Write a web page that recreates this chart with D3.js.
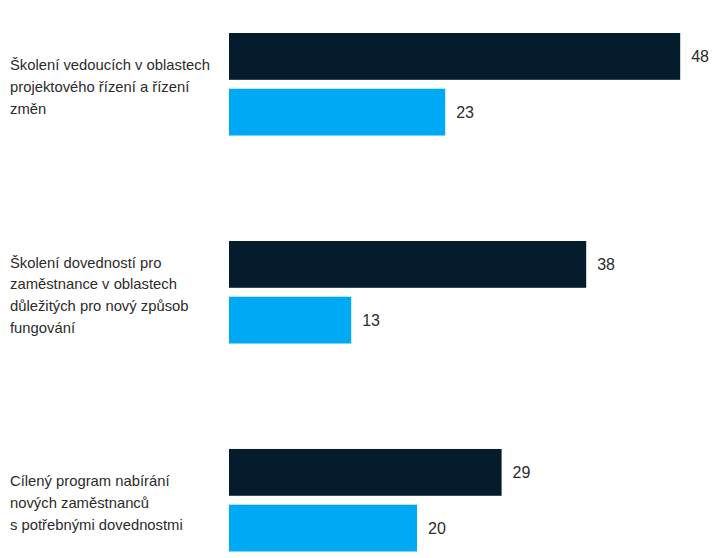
<!DOCTYPE html>
<html>
<head>
<meta charset="utf-8">
<script src="https://cdn.jsdelivr.net/npm/d3@7"></script>
<style>
  html, body { margin: 0; padding: 0; background: #fff; }
  svg { display: block; }
  text { font-family: "Liberation Sans", Arial, sans-serif; fill: #2b2b2b; }
</style>
</head>
<body>
<svg id="chart" width="728" height="558"></svg>
<script>
// Category labels, each split into its wrapped lines
const categories = ["c1", "c2", "c3"];
const categoryLines = [
  ["Školení vedoucích v oblastech", "projektového řízení a řízení", "změn"],
  ["Školení dovedností pro", "zaměstnance v oblastech", "důležitých pro nový způsob", "fungování"],
  ["Cílený program nabírání", "nových zaměstnanců", "s potřebnými dovednostmi"]
];
// Two series per category (dark first, light second)
const seriesKeys = ["first", "second"];
const firstValues = [48, 38, 29];
const secondValues = [23, 13, 20];
const seriesColors = ["#051c2c", "#00a9f4"];

const svg = d3.select("#chart");

const x = d3.scaleLinear().domain([0, 50]).range([229, 699]);

const y0 = d3.scaleBand()
  .domain(categories)
  .range([33, 551.5])
  .paddingInner(0.507)
  .paddingOuter(0);

const y1 = d3.scaleBand()
  .domain(seriesKeys)
  .range([0, y0.bandwidth()])
  .paddingInner(0.16)
  .paddingOuter(0);

const rows = categories.map((c, i) => ({
  cat: c,
  lines: categoryLines[i],
  vals: [
    { key: seriesKeys[0], v: firstValues[i], color: seriesColors[0] },
    { key: seriesKeys[1], v: secondValues[i], color: seriesColors[1] }
  ]
}));

const g = svg.selectAll("g.group")
  .data(rows)
  .join("g")
  .attr("class", "group")
  .attr("transform", d => `translate(0,${y0(d.cat)})`);

// Bars
g.selectAll("rect")
  .data(d => d.vals)
  .join("rect")
  .attr("x", x(0))
  .attr("y", d => y1(d.key))
  .attr("width", d => x(d.v) - x(0))
  .attr("height", y1.bandwidth())
  .attr("fill", d => d.color);

// Value labels
g.selectAll("text.value")
  .data(d => d.vals)
  .join("text")
  .attr("class", "value")
  .attr("x", d => x(d.v) + 11)
  .attr("y", d => y1(d.key) + y1.bandwidth() / 2)
  .attr("dy", "0.36em")
  .attr("font-size", 16)
  .text(d => d.v);

// Category labels, vertically centred on each group
const lineH = 21.7;
g.append("text")
  .attr("class", "cat")
  .attr("font-size", 14.8)
  .each(function(d) {
    const n = d.lines.length;
    const mid = y0.bandwidth() / 2 + 2.5;
    const t = d3.select(this);
    d.lines.forEach((line, j) => {
      t.append("tspan")
        .attr("x", 10)
        .attr("y", mid + (j - (n - 1) / 2) * lineH)
        .attr("dy", "0.36em")
        .text(line);
    });
  });
</script>
</body>
</html>
